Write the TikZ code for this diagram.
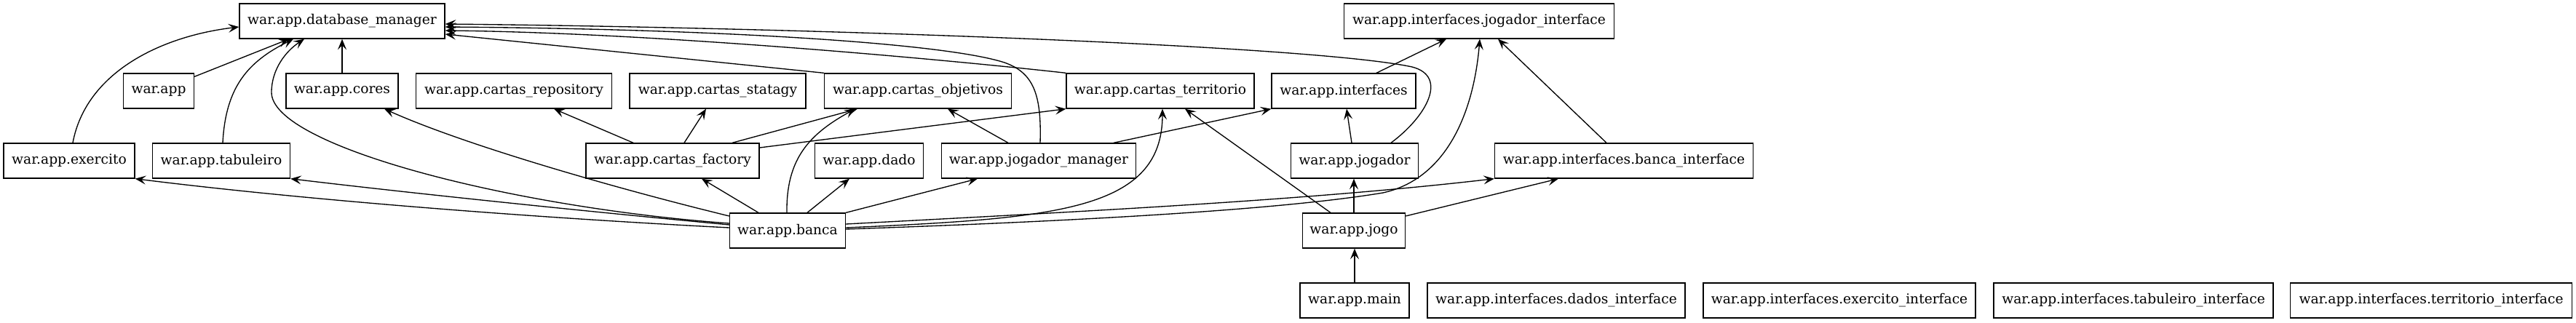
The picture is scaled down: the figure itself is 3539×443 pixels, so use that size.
\documentclass[tikz,border=0pt]{standalone}
\usepackage{fontspec}
\setmainfont{DejaVu Serif}
\usetikzlibrary{arrows.meta,calc}
\begin{document}
\begin{tikzpicture}[x=0.75pt,y=-0.75pt,
  box/.style={draw,line width=1pt,rectangle,minimum height=36pt,inner sep=0pt,font=\fontsize{14}{16}\selectfont},
  arr/.style={-{Stealth[length=11pt,width=9pt,inset=4.5pt]},line width=1pt}]
\useasboundingbox (0,0) rectangle (3539,443);
% row 1
\node[box,minimum width=211.5pt] (dbm) at (470,29) {war.app.database\_manager};
\node[box,minimum width=278.25pt] (ji) at (2032,29) {war.app.interfaces.jogador\_interface};
% row 2
\node[box,minimum width=72.75pt] (warapp) at (218,125) {war.app};
\node[box,minimum width=115.5pt] (cores) at (470,125) {war.app.cores};
\node[box,minimum width=201.75pt] (crep) at (706,125) {war.app.cartas\_repository};
\node[box,minimum width=181.5pt] (cstat) at (986,125) {war.app.cartas\_statagy};
\node[box,minimum width=192.75pt] (cobj) at (1261,125) {war.app.cartas\_objetivos};
\node[box,minimum width=193.5pt] (cterr) at (1594,125) {war.app.cartas\_territorio};
\node[box,minimum width=148.5pt] (intf) at (1846,125) {war.app.interfaces};
% row 3
\node[box,minimum width=135pt] (exer) at (95,221) {war.app.exercito};
\node[box,minimum width=141.75pt] (tab) at (304,221) {war.app.tabuleiro};
\node[box,minimum width=178.5pt] (cfact) at (924,221) {war.app.cartas\_factory};
\node[box,minimum width=111.75pt] (dado) at (1194,221) {war.app.dado};
\node[box,minimum width=200.25pt] (jman) at (1427,221) {war.app.jogador\_manager};
\node[box,minimum width=131.25pt] (jogador) at (1861,221) {war.app.jogador};
\node[box,minimum width=266.25pt] (bi) at (2231,221) {war.app.interfaces.banca\_interface};
% row 4
\node[box,minimum width=119.25pt] (banca) at (1082,317) {war.app.banca};
\node[box,minimum width=105.75pt] (jogo) at (1860,317) {war.app.jogo};
% row 5
\node[box,minimum width=112.5pt] (main) at (1861,413) {war.app.main};
\node[box,minimum width=265.5pt] (dadosi) at (2138,413) {war.app.interfaces.dados\_interface};
\node[box,minimum width=280.5pt] (exeri) at (2527,413) {war.app.interfaces.exercito\_interface};
\node[box,minimum width=288pt] (tabi) at (2931,413) {war.app.interfaces.tabuleiro\_interface};
\node[box,minimum width=290.25pt] (terri) at (3340,413) {war.app.interfaces.territorio\_interface};

% edges into database_manager
\draw[arr] ($(exer.north)+(5,0)$) .. controls (118,100) and (220,50) .. ($(dbm.west)+(0,8)$);
\draw[arr] ($(warapp.north east)+(0,5)$) -- ($(dbm.south)+(-73,0)$);
\draw[arr] ($(tab.north)+(2,0)$) .. controls (310,120) and (340,85) .. ($(dbm.south)+(-67,0)$);
\draw[arr] (cores.north) -- (dbm.south);
\draw[arr] ($(banca.west)+(0,-10)$) .. controls (700,285) and (373,200) .. (373,127) .. controls (373,95) and (393,70) .. ($(dbm.south)+(-52,0)$);
\draw[arr] (cobj.north west) -- ($(dbm.east)+(0,18)$);
\draw[arr] (cterr.north west) .. controls (1300,82) and (900,45) .. ($(dbm.east)+(0,13)$);
\draw[arr] ($(jman.north)+(2,0)$) .. controls (1431,130) and (1420,100) .. (1380,86) .. controls (1300,60) and (1000,40) .. ($(dbm.east)+(0,8)$);
\draw[arr] ($(jogador.north)+(50,0)$) .. controls (1960,160) and (1990,105) .. (1940,92) .. controls (1800,62) and (1100,38) .. ($(dbm.east)+(0,4)$);

% banca
\draw[arr] ($(banca.west)+(0,-20)$) .. controls (850,260) and (640,200) .. ($(cores.south)+(58,0)$);
\draw[arr] ($(banca.west)+(0,-4)$) .. controls (730,299) and (420,275) .. (exer.south east);
\draw[arr] ($(banca.west)+(0,-8)$) .. controls (800,290) and (560,265) .. (tab.south east);
\draw[arr] ($(banca.north)+(-40,0)$) -- ($(cfact.south)+(40,0)$);
\draw[arr] ($(banca.north)+(-1,0)$) .. controls (1080,220) and (1110,185) .. ($(cobj.south)+(-86,0)$);
\draw[arr] ($(banca.north)+(27,0)$) -- ($(dado.south)+(-27,0)$);
\draw[arr] (banca.north east) -- ($(jman.south)+(-84,0)$);
\draw[arr] ($(banca.east)+(0,-4)$) .. controls (1450,300) and (1597,290) .. ($(cterr.south)+(3,0)$);
\draw[arr] ($(banca.east)+(0,-9)$) .. controls (1500,290) and (1800,275) .. (bi.south west);
\draw[arr] ($(banca.east)+(0,-2)$) .. controls (1450,305) and (1750,290) .. (1900,265) .. controls (1990,245) and (2025,150) .. ($(ji.south)+(1,0)$);

% cartas_factory
\draw[arr] ($(cfact.north)+(-54,0)$) -- ($(crep.south)+(55,0)$);
\draw[arr] ($(cfact.north)+(16,0)$) -- ($(cstat.south)+(-16,0)$);
\draw[arr] ($(cfact.north)+(82,0)$) -- ($(cobj.south)+(-83,0)$);
\draw[arr] ($(cfact.east)+(0,-18)$) -- (cterr.south west);

% jogador_manager
\draw[arr] ($(jman.north)+(-42,0)$) -- ($(cobj.south)+(41,0)$);
\draw[arr] ($(jman.north)+(103,0)$) -- (intf.south west);

% jogo, main, jogador, interfaces
\draw[arr] ($(jogo.north)+(-32,0)$) -- ($(cterr.south)+(34,0)$);
\draw[arr] (jogo.north) -- (jogo.north |- jogador.south);
\draw[arr] ($(jogo.east)+(0,-20)$) -- ($(bi.south)+(-90,0)$);
\draw[arr] (main.north) -- (main.north |- jogo.south);
\draw[arr] ($(jogador.north)+(-4,0)$) -- ($(intf.south)+(4,0)$);
\draw[arr] ($(intf.north)+(45,0)$) -- ($(ji.south)+(-45,0)$);
\draw[arr] ($(bi.north)+(-24,0)$) -- ($(ji.south)+(26,0)$);
\end{tikzpicture}
\end{document}
